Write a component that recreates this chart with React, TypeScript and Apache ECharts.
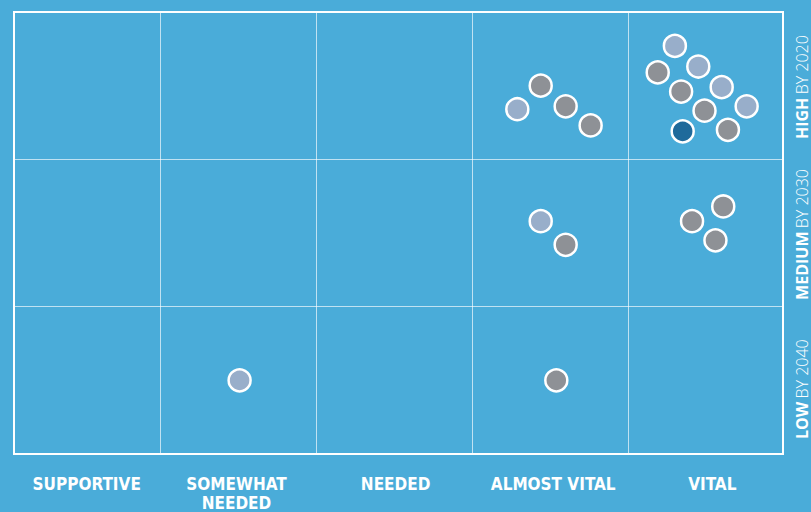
import React, { useEffect, useRef } from "react";
import * as echarts from "echarts";

const columnLabels = ["SUPPORTIVE", "SOMEWHAT\nNEEDED", "NEEDED", "ALMOST VITAL", "VITAL"];
const columnLabelPositions = [0.53, 1.49, 2.51, 3.52, 4.54];
const rowLevels = ["LOW", "MEDIUM", "HIGH"];
const rowYears = ["BY 2040", "BY 2030", "BY 2020"];
const rowCenters = [0.44, 1.49, 2.49];
const columnBoundaries = [1, 2, 3, 4];
const rowBoundaries = [1, 2];

const grayPoints = [
  [3.44, 2.5], [3.6, 2.36], [3.76, 2.23],
  [4.19, 2.59], [4.34, 2.46], [4.49, 2.33], [4.64, 2.2],
  [3.6, 1.42], [4.41, 1.58], [4.61, 1.68], [4.56, 1.45],
  [3.54, 0.5],
];
const lightPoints = [
  [3.29, 2.34], [4.3, 2.77], [4.45, 2.63], [4.6, 2.49], [4.76, 2.36],
  [3.44, 1.58], [1.51, 0.5],
];
const darkPoints = [[4.35, 2.19]];

const BG = "#4aacd9";

export default function App() {
  const ref = useRef<HTMLDivElement>(null);
  useEffect(() => {
    if (!ref.current) return;
    const chart = echarts.init(ref.current, undefined, { renderer: "svg" });
    const symbolStyle = (color: string) => ({
      color,
      borderColor: "#ffffff",
      borderWidth: 2.5,
      opacity: 1,
    });
    chart.setOption({
      animation: false,
      backgroundColor: BG,
      grid: {
        left: 14,
        right: 28,
        top: 12,
        bottom: 58,
        show: true,
        borderColor: "#ffffff",
        borderWidth: 2,
        backgroundColor: BG,
      },
      xAxis: {
        type: "value",
        min: 0.064,
        max: 4.993,
        axisLine: { show: false },
        axisTick: { show: false },
        splitLine: { show: false },
        axisLabel: {
          customValues: columnLabelPositions,
          formatter: (v: number) => {
            const i = columnLabelPositions.findIndex((p) => Math.abs(p - v) < 0.001);
            return i >= 0 ? columnLabels[i] : "";
          },
          color: "#ffffff",
          fontFamily: "'DejaVu Sans Condensed', 'Liberation Sans Narrow', sans-serif",
          fontWeight: "bold",
          fontSize: 17,
          lineHeight: 19,
          margin: 20,
          align: "center",
        },
      },
      yAxis: {
        type: "value",
        min: 0,
        max: 3,
        axisLine: { show: false },
        axisTick: { show: false },
        splitLine: { show: false },
        axisLabel: { show: false },
      },
      series: [
        {
          type: "scatter",
          name: "gray",
          data: grayPoints,
          symbolSize: 22,
          itemStyle: symbolStyle("#8e9196"),
          z: 3,
          markLine: {
            silent: true,
            symbol: "none",
            label: { show: false },
            lineStyle: { color: "rgba(255,255,255,0.65)", width: 1, type: "solid" },
            data: [
              ...columnBoundaries.map((x) => ({ xAxis: x })),
              ...rowBoundaries.map((y) => ({ yAxis: y })),
            ],
          },
        },
        {
          type: "scatter",
          name: "light",
          data: lightPoints,
          symbolSize: 22,
          itemStyle: symbolStyle("#98aeca"),
          z: 3,
        },
        {
          type: "scatter",
          name: "dark",
          data: darkPoints,
          symbolSize: 22,
          itemStyle: symbolStyle("#1f6a9b"),
          z: 3,
        },
      ],
    });
    const graphic = rowCenters.map((c, i) => {
      const py = chart.convertToPixel({ yAxisIndex: 0 }, c) as number;
      return {
        type: "text",
        x: 802,
        y: py,
        rotation: Math.PI / 2,
        style: {
          text: `{b|${rowLevels[i]}} {l|${rowYears[i]}}`,
          fill: "#ffffff",
          align: "center",
          verticalAlign: "middle",
          rich: {
            b: { fontFamily: "'Open Sans', sans-serif", fontWeight: "bold", fontSize: 16, fill: "#ffffff", color: "#ffffff" },
            l: { fontFamily: "'Open Sans', sans-serif", fontWeight: 300, fontSize: 16, fill: "#ffffff", color: "#ffffff" },
          },
        },
      };
    });
    chart.setOption({ graphic });
    return () => chart.dispose();
  }, []);
  return (
    <div
      ref={ref}
      style={{ position: "fixed", left: 0, top: 0, width: 811, height: 512 }}
    />
  );
}
